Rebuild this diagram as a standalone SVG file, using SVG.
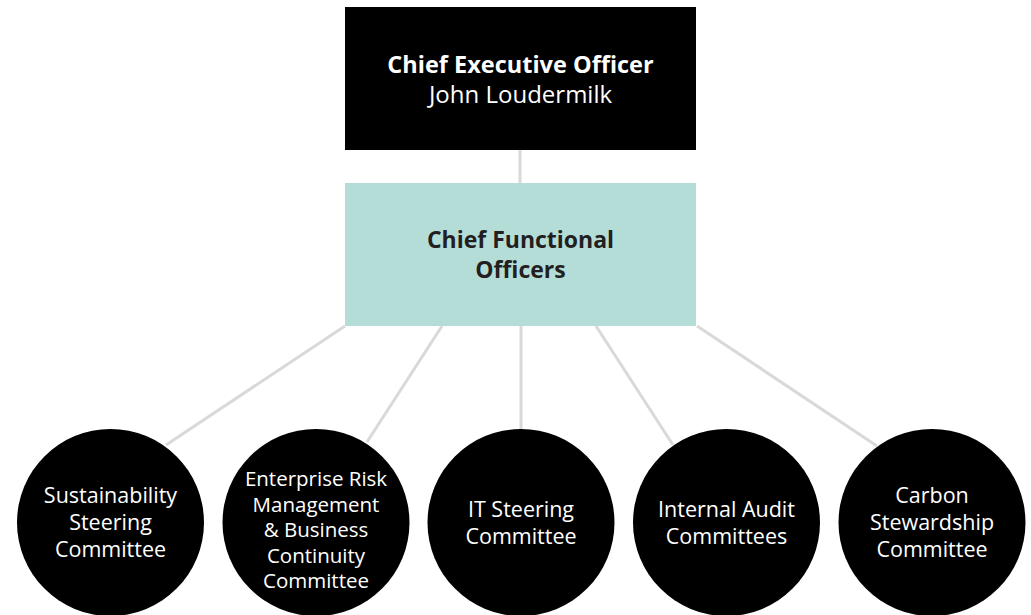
<svg xmlns="http://www.w3.org/2000/svg" width="1031" height="615" viewBox="0 0 1031 615">
<style>
.conn{stroke:#d9d9d9;stroke-width:3;fill:none}
.t{font-family:"Open Sans","Noto Sans",sans-serif;text-anchor:middle}
.w{fill:#ffffff}
.c{font-size:21.5px}
.c2{font-size:20.5px}
</style>
<rect width="1031" height="615" fill="#ffffff"/>
<g id="connectors">
<line class="conn" x1="520" y1="150" x2="520" y2="183"/>
<line class="conn" x1="345" y1="326" x2="166" y2="445"/>
<line class="conn" x1="442" y1="326" x2="367" y2="442"/>
<line class="conn" x1="521" y1="326" x2="521" y2="430"/>
<line class="conn" x1="596" y1="326" x2="673" y2="445"/>
<line class="conn" x1="697" y1="326" x2="877" y2="446"/>
</g>
<g id="ceo">
<rect x="345" y="7" width="351" height="143" fill="#000000"/>
<text class="t w" x="520.5" y="73" font-size="23.5" font-weight="bold">Chief Executive Officer</text>
<text class="t w" x="520.5" y="103" font-size="24">John Loudermilk</text>
</g>
<g id="cfo">
<rect x="345" y="183" width="351" height="143" fill="#b5ddd8"/>
<text class="t" x="520.5" y="248" font-size="23" font-weight="bold" fill="#231f20">Chief Functional</text>
<text class="t" x="520.5" y="278" font-size="23" font-weight="bold" fill="#231f20">Officers</text>
</g>
<g id="sustainability">
<circle cx="110.5" cy="522.5" r="93.5" fill="#000000"/>
<text class="t w c" x="110.5" y="503">Sustainability</text>
<text class="t w c" x="110.5" y="530">Steering</text>
<text class="t w c" x="110.5" y="557">Committee</text>
</g>
<g id="erm">
<circle cx="316" cy="522.5" r="93.5" fill="#000000"/>
<text class="t w c2" x="316" y="486">Enterprise Risk</text>
<text class="t w c2" x="316" y="511.5">Management</text>
<text class="t w c2" x="316" y="537">&amp; Business</text>
<text class="t w c2" x="316" y="562.5">Continuity</text>
<text class="t w c2" x="316" y="588">Committee</text>
</g>
<g id="it">
<circle cx="521" cy="522.5" r="93.5" fill="#000000"/>
<text class="t w c" x="521" y="517">IT Steering</text>
<text class="t w c" x="521" y="544">Committee</text>
</g>
<g id="audit">
<circle cx="726.5" cy="522.5" r="93.5" fill="#000000"/>
<text class="t w c" x="726.5" y="517">Internal Audit</text>
<text class="t w c" x="726.5" y="544">Committees</text>
</g>
<g id="carbon">
<circle cx="932" cy="522.5" r="93.5" fill="#000000"/>
<text class="t w c" x="932" y="503">Carbon</text>
<text class="t w c" x="932" y="530">Stewardship</text>
<text class="t w c" x="932" y="557">Committee</text>
</g>
</svg>
